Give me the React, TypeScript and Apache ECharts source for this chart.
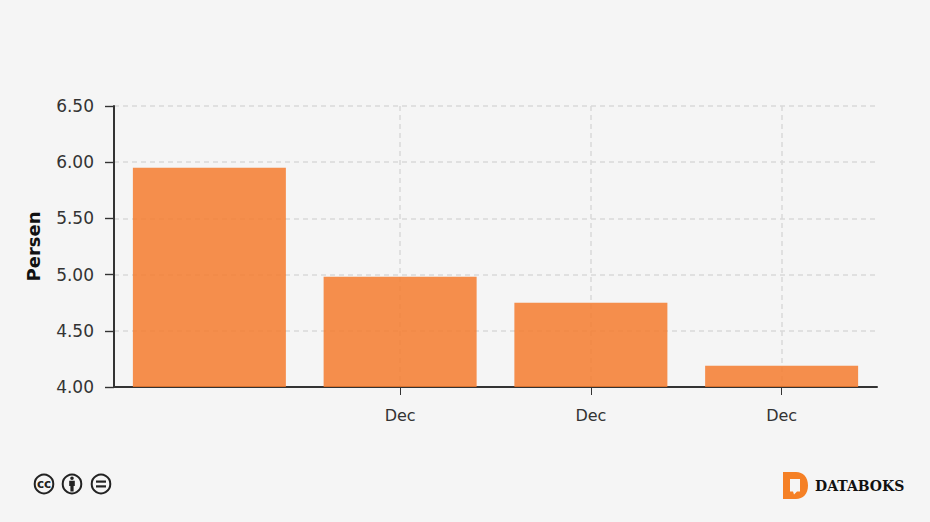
import React, { useEffect, useRef } from "react";
import * as echarts from "echarts";

const categories = ["", "Dec", "Dec", "Dec"];
const values = [5.95, 4.98, 4.75, 4.19];
const yAxisName = "Persen";
const brandName = "DATABOKS";

const FONT = "'DejaVu Sans', Verdana, sans-serif";

echarts.graphic.registerShape(
  "dbkLogo",
  echarts.graphic.extendPath(
    "M0 0 H13 C20 0 25 5 25 13.5 C25 22 20 27 13 27 H0 Z M7 7 V19.5 H10 L11 22.5 L14 19.5 H17 V7 Z",
    {}
  )
);
echarts.graphic.registerShape(
  "ccPerson",
  echarts.graphic.extendPath(
    "M0 -7.5 A1.8 1.8 0 1 1 0 -3.9 A1.8 1.8 0 1 1 0 -7.5 Z M-2.8 -3.2 H2.8 V2 H1.6 V7.5 H-1.6 V2 H-2.8 Z",
    {}
  )
);

function ccGroup() {
  const ring = (x: number) => ({
    type: "circle",
    shape: { cx: x, cy: 484, r: 9.3 },
    style: { fill: "#f5f5f5", stroke: "#222", lineWidth: 2 },
  });
  return [
    ring(44),
    {
      type: "text",
      x: 44,
      y: 483.5,
      style: {
        text: "cc",
        font: "bold 12px 'DejaVu Sans', sans-serif",
        fill: "#222",
        align: "center",
        verticalAlign: "middle",
      },
    },
    ring(72),
    { type: "ccPerson", x: 72, y: 484, style: { fill: "#222" } },
    ring(101),
    { type: "rect", shape: { x: 96, y: 480.5, width: 10, height: 2.2 }, style: { fill: "#222" } },
    { type: "rect", shape: { x: 96, y: 485.3, width: 10, height: 2.2 }, style: { fill: "#222" } },
  ];
}

export default function App() {
  const ref = useRef<HTMLDivElement>(null);
  useEffect(() => {
    document.body.style.margin = "0";
    const chart = echarts.init(ref.current!, null, { renderer: "svg" });
    chart.setOption({
      animation: false,
      backgroundColor: "#f5f5f5",
      grid: { left: 114, top: 106, width: 763, height: 281, containLabel: false },
      xAxis: {
        type: "category",
        data: categories,
        axisLine: { show: true, lineStyle: { color: "#333", width: 2 } },
        axisTick: {
          show: true,
          alignWithLabel: true,
          length: 8,
          interval: (i: number) => i > 0,
          lineStyle: { color: "#333", width: 1 },
        },
        axisLabel: {
          interval: 0,
          margin: 20,
          color: "#333",
          fontFamily: FONT,
          fontSize: 16,
        },
        splitLine: {
          show: true,
          alignWithLabel: true,
          interval: (i: number) => i > 0,
          lineStyle: { color: "#d9d9d9", type: [5, 4], width: 1.5 },
        },
      },
      yAxis: {
        type: "value",
        min: 4,
        max: 6.5,
        interval: 0.5,
        name: yAxisName,
        nameLocation: "middle",
        nameGap: 72,
        nameRotate: 90,
        nameTextStyle: { color: "#111", fontFamily: FONT, fontSize: 18, fontWeight: "bold" },
        axisLine: { show: true, lineStyle: { color: "#333", width: 2 } },
        axisTick: { show: true, length: 9, lineStyle: { color: "#333", width: 1.4 } },
        axisLabel: {
          margin: 20,
          color: "#333",
          fontFamily: FONT,
          fontSize: 17,
          formatter: (v: number) => v.toFixed(2),
        },
        splitLine: {
          show: true,
          lineStyle: { color: "#d9d9d9", type: [5, 4], width: 1.5 },
        },
      },
      series: [
        {
          type: "bar",
          data: values,
          barWidth: 153,
          itemStyle: { color: "#f47b2e", opacity: 0.85 },
        },
      ],
      graphic: [
        ...ccGroup(),
        { type: "dbkLogo", x: 783, y: 472, style: { fill: "#f58025" } },
        {
          type: "text",
          x: 815,
          y: 486,
          style: {
            text: brandName,
            font: "bold 14px 'DejaVu Serif', serif",
            fill: "#111",
            align: "left",
            verticalAlign: "middle",
          },
        },
      ],
    });
    return () => chart.dispose();
  }, []);
  return <div ref={ref} style={{ width: 930, height: 522 }} />;
}
